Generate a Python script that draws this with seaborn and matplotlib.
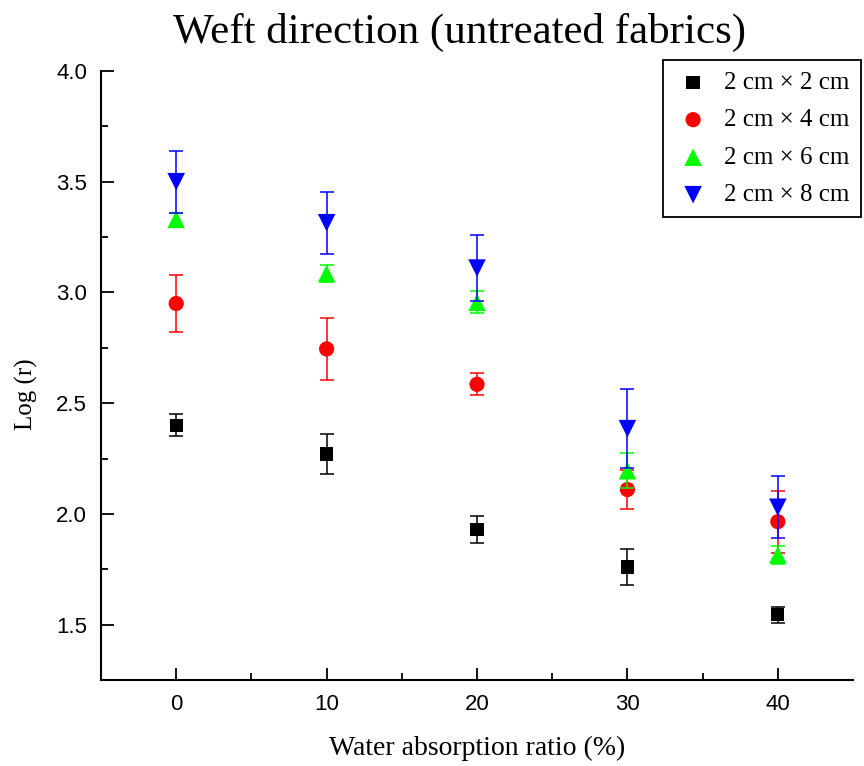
import matplotlib
matplotlib.use("Agg")
import matplotlib.pyplot as plt
import seaborn as sns
import pandas as pd

water_ratio = [0, 10, 20, 30, 40]
series_names = ["2 cm \u00d7 2 cm", "2 cm \u00d7 4 cm", "2 cm \u00d7 6 cm", "2 cm \u00d7 8 cm"]
log_r_2x2 = [2.40, 2.27, 1.93, 1.76, 1.545]
err_2x2 = [0.05, 0.09, 0.06, 0.08, 0.036]
log_r_2x4 = [2.95, 2.745, 2.585, 2.11, 1.965]
err_2x4 = [0.13, 0.14, 0.05, 0.09, 0.14]
log_r_2x6 = [3.33, 3.085, 2.955, 2.195, 1.815]
err_2x6 = [0.03, 0.04, 0.05, 0.08, 0.04]
log_r_2x8 = [3.50, 3.315, 3.11, 2.385, 2.03]
err_2x8 = [0.14, 0.14, 0.15, 0.18, 0.14]
y_ticks = [1.5, 2.0, 2.5, 3.0, 3.5, 4.0]
y_ticklabels = ["1.5", "2.0", "2.5", "3.0", "3.5", "4.0"]

values = [log_r_2x2, log_r_2x4, log_r_2x6, log_r_2x8]
errors = [err_2x2, err_2x4, err_2x6, err_2x8]
colors = ["#000000", "#ff0000", "#00ff00", "#0000ff"]
markers = ["s", "o", "^", "v"]
msizes = [92, 120, 160, 160]

rows = []
for name, vals, errs in zip(series_names, values, errors):
    for x, v, e in zip(water_ratio, vals, errs):
        rows.append({"ratio": x, "logr": v, "err": e, "size": name})
df = pd.DataFrame(rows)

sns.set_style("white")
plt.rcParams["font.family"] = ["Liberation Sans", "DejaVu Sans"]
plt.rcParams["text.color"] = "black"
plt.rcParams["axes.labelcolor"] = "black"

fig = plt.figure(figsize=(8.64, 7.66), dpi=100)
ax = fig.add_axes([0.1169, 0.1123, 0.8704, 0.795])

for i, name in enumerate(series_names):
    sub = df[df["size"] == name]
    c = colors[i]
    ax.errorbar(sub["ratio"], sub["logr"], yerr=sub["err"], fmt="none",
                ecolor=c, elinewidth=1.1, capsize=4.7, capthick=1.1, zorder=2 + i)
    sns.scatterplot(data=sub, x="ratio", y="logr", color=c,
                    marker=markers[i], s=msizes[i],
                    edgecolor="none", linewidth=0, ax=ax, label=name, zorder=2.5 + i)

ax.set_xlim(-5, 45)
ax.set_ylim(1.25, 4.0)
ax.set_xticks(water_ratio)
ax.set_xticks([5, 15, 25, 35], minor=True)
ax.set_yticks(y_ticks)
ax.set_yticks([1.75, 2.25, 2.75, 3.25, 3.75], minor=True)
ax.set_yticklabels(y_ticklabels)
ax.tick_params(axis="both", which="major", direction="in", length=9, width=1.3,
               labelsize=16, left=True, bottom=True, color="black", labelcolor="black")
ax.tick_params(axis="x", which="major", pad=10)
ax.tick_params(axis="y", which="major", pad=10)
ax.tick_params(axis="both", which="minor", direction="in", length=5, width=1.3,
               left=True, bottom=True, color="black")
for s in ["top", "right"]:
    ax.spines[s].set_visible(False)
for s in ["left", "bottom"]:
    ax.spines[s].set_color("black")
    ax.spines[s].set_linewidth(1.5)

ax.set_xlabel("Water absorption ratio (%)", family="Liberation Serif", fontsize=20,
              va="center", color="black")
ax.xaxis.set_label_coords(0.5, -0.112)
ax.set_ylabel("Log (r)", family="Liberation Serif", fontsize=18, va="center", ha="center",
              color="black")
ax.yaxis.set_label_coords(-0.0997, 0.47)
fig.text(0.532, 0.944, "Weft direction (untreated fabrics)", family="Liberation Serif",
         fontsize=31, ha="center", va="baseline", color="black")

leg = ax.legend(loc="upper right", bbox_to_anchor=(0.9965, 0.9217), bbox_transform=fig.transFigure,
                frameon=True, fancybox=False, edgecolor="black",
                prop={"family": "Liberation Serif", "size": 18}, handletextpad=0.5,
                borderpad=0.45, labelspacing=0.6, markerscale=1.0, handlelength=1.5,
                borderaxespad=0)
leg.get_frame().set_linewidth(1.3)
leg.get_frame().set_alpha(1)
for t in leg.get_texts():
    t.set_color("black")

fig.savefig("out.png", dpi=100)
